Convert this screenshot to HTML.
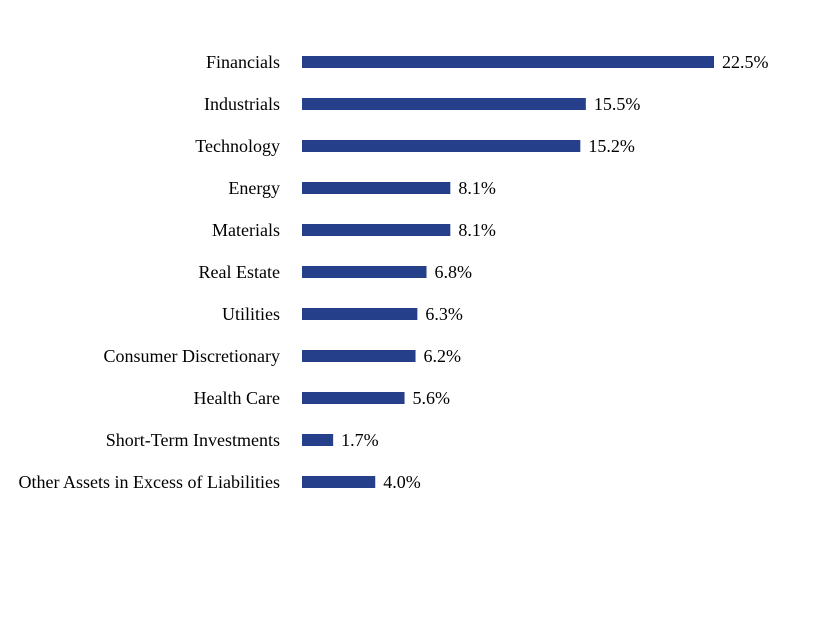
<!DOCTYPE html>
<html><head><meta charset="utf-8"><style>
body{margin:0;background:#fff}
svg{display:block}
text{font-family:"Liberation Serif",serif;font-size:18px;fill:#000}
</style></head><body>
<svg id="chart" width="816" height="624" xmlns="http://www.w3.org/2000/svg"></svg>
<script>
const categories=["Financials","Industrials","Technology","Energy","Materials","Real Estate","Utilities","Consumer Discretionary","Health Care","Short-Term Investments","Other Assets in Excess of Liabilities"];
const values=[22.5,15.5,15.2,8.1,8.1,6.8,6.3,6.2,5.6,1.7,4.0];
const valueLabels=["22.5%","15.5%","15.2%","8.1%","8.1%","6.8%","6.3%","6.2%","5.6%","1.7%","4.0%"];
const svg=document.getElementById('chart');
const NS="http://www.w3.org/2000/svg";
const x0=302,pxPer=412/22.5;
function xs(v){return x0+v*pxPer;}
function yc(i){return 62+i*42;}
categories.forEach((c,i)=>{
  const t=document.createElementNS(NS,'text');
  
  
  t.setAttribute('x',280);t.setAttribute('y',yc(i)+6);t.setAttribute('text-anchor','end');
  t.textContent=c;svg.appendChild(t);
  const r=document.createElementNS(NS,'rect');
  
  
  r.setAttribute('x',x0);r.setAttribute('y',yc(i)-6);r.setAttribute('height',12);
  r.setAttribute('width',xs(values[i])-x0);r.setAttribute('fill','#263f8a');
  svg.appendChild(r);
  const v=document.createElementNS(NS,'text');
  
  
  v.setAttribute('x',xs(values[i])+8);v.setAttribute('y',yc(i)+6);
  v.textContent=valueLabels[i];svg.appendChild(v);
});
</script>
</body></html>
